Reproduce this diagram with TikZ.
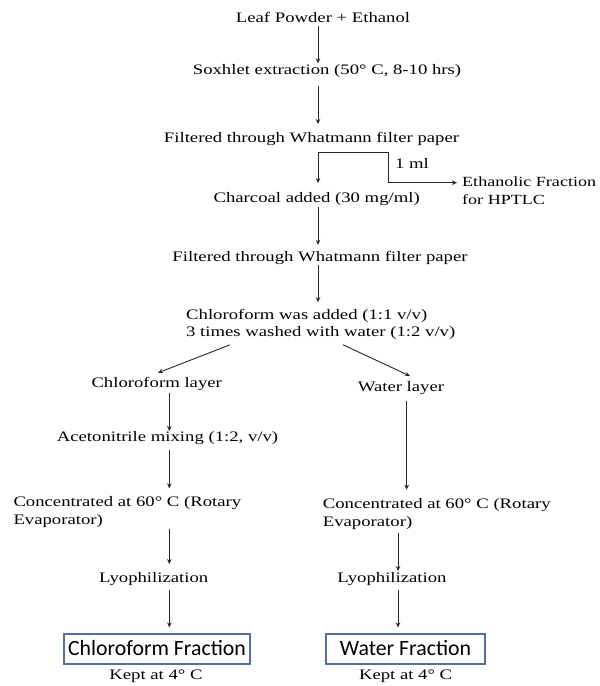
\documentclass[tikz,border=0pt]{standalone}
\usepackage{fontspec}
\setmainfont[FakeStretch=1.29]{Liberation Serif}
\newfontfamily\boxfont{Carlito}
\usetikzlibrary{arrows.meta}
\begin{document}
\begin{tikzpicture}[x=1pt,y=-1pt,
  txt/.style={font=\fontsize{14.5}{17.6}\selectfont, inner sep=0pt, text height=10.5pt, text depth=3.5pt, anchor=base},
  mtxt/.style={font=\fontsize{14.5}{17.6}\selectfont, inner sep=0pt, align=left, anchor=north west},
  arr/.style={draw=black!85, line width=0.9pt, -{Stealth[length=5pt,width=4.5pt]}},
  ln/.style={draw=black!85, line width=0.9pt},
  fbox/.style={draw={rgb,255:red,79;green,112;blue,160}, line width=1.1pt, inner sep=0pt,
    font=\boxfont\fontsize{21.8}{26}\selectfont, text height=14pt, text depth=1pt}]
\useasboundingbox (0,0) rectangle (600,686);
\fill[white] (0,0) rectangle (600,686);

% column x positions
\coordinate (xa) at (318,0);
\coordinate (xl) at (169.3,0);
\coordinate (xr) at (406.7,0);
\coordinate (xr2) at (398,0);

% nodes
\node[txt] (leaf) at (323,22.7) {Leaf Powder + Ethanol};
\node[txt] (sox) at (327,74) {Soxhlet extraction (50° C, 8-10 hrs)};
\node[txt] (fil1) at (311.5,142.7) {Filtered through Whatmann filter paper};
\node[txt] (char) at (316.7,202.7) {Charcoal added (30 mg/ml)};
\node[txt] (fil2) at (320,261) {Filtered through Whatmann filter paper};
\node[mtxt] (chl) at (186,308.7) {Chloroform was added (1:1 v/v)\\3 times washed with water (1:2 v/v)};
\node[txt] (onem) at (412,168) {1 ml};
\node[mtxt, font=\fontsize{14}{17.6}\selectfont] (eth) at (462,176.8) {Ethanolic Fraction\\for HPTLC};

\node[txt] (chlayer) at (156.7,387) {Chloroform layer};
\node[txt] (aceto) at (167.5,441.7) {Acetonitrile mixing (1:2, v/v)};
\node[mtxt] (conc1) at (13.3,496.4) {Concentrated at 60° C (Rotary\\Evaporator)};
\node[txt] (lyo1) at (153.7,582.7) {Lyophilization};
\node[fbox, minimum width=186pt, minimum height=30pt] (box1) at (157,649) {Chloroform Fraction};
\node[txt] (kept1) at (156,679) {Kept at 4° C};

\node[txt] (water) at (401,391.7) {Water layer};
\node[mtxt] (conc2) at (322.7,498.7) {Concentrated at 60° C (Rotary\\Evaporator)};
\node[txt] (lyo2) at (392,582.7) {Lyophilization};
\node[fbox, minimum width=159pt, minimum height=30pt] (box2) at (405.5,649) {Water Fraction};
\node[txt] (kept2) at (405.6,679) {Kept at 4° C};

% main column
\draw[arr] (xa |- leaf.south) -- (xa |- sox.north);
\draw[arr, shorten <=8.5pt, shorten >=8pt] (xa |- sox.south) -- (xa |- fil1.north);
\coordinate (j) at (318,152.7);
\coordinate (k) at (388,182.7);
\draw[arr, shorten >=9pt] (j) -- (xa |- char.north);
\draw[ln] (j) -| (k);
\draw[arr, shorten >=5pt] (k) -- (k -| eth.west);
\draw[arr, shorten <=1pt, shorten >=5.5pt] (xa |- char.south) -- (xa |- fil2.north);
\draw[arr, shorten <=0.5pt, shorten >=6.5pt] (xa |- fil2.south) -- (xa |- chl.north);

% split
\draw[arr] ([xshift=44pt,yshift=-4.8pt]chl.south west) -- ([xshift=1.3pt,yshift=3.5pt]chlayer.north);
\draw[arr] ([xshift=157pt,yshift=-4.8pt]chl.south west) -- ([xshift=9pt,yshift=5pt]water.north);

% left column
\draw[arr, shorten <=2.5pt] (xl |- chlayer.south) -- (xl |- aceto.north);
\draw[arr, shorten <=5pt, shorten >=8pt] (xl |- aceto.south) -- (xl |- conc1.north);
\draw[arr, shorten <=1pt, shorten >=8pt] (xl |- conc1.south) -- (xl |- lyo1.north);
\draw[arr, shorten <=4pt, shorten >=6pt] (xl |- lyo1.south) -- (xl |- box1.north);

% right column
\draw[arr, shorten <=6pt, shorten >=9pt] (xr |- water.south) -- (xr |- conc2.north);
\draw[arr, shorten <=3pt, shorten >=1pt] (xr2 |- conc2.south) -- (xr2 |- lyo2.north);
\draw[arr, shorten <=4pt, shorten >=6pt] (xr2 |- lyo2.south) -- (xr2 |- box2.north);
\end{tikzpicture}
\end{document}
